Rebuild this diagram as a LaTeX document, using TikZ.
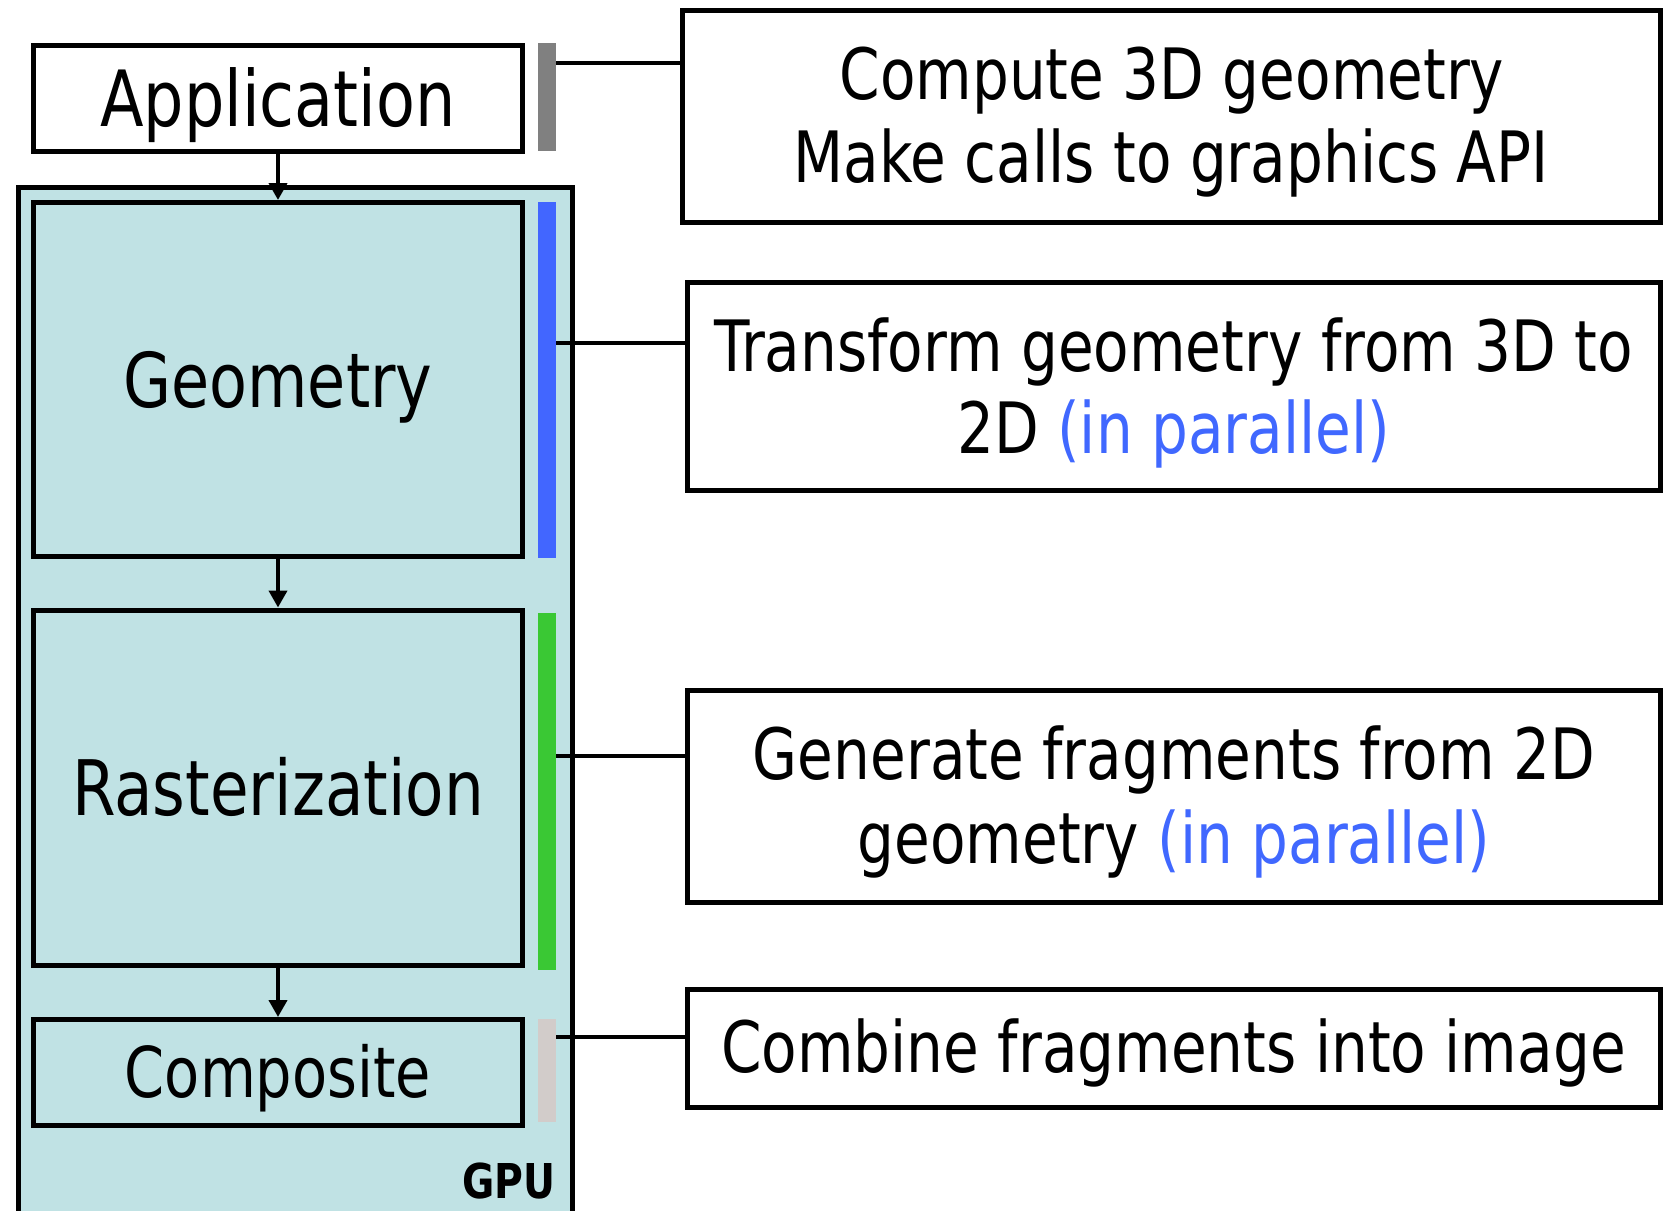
\documentclass[tikz,border=0pt]{standalone}
\usepackage{fontspec}
\setmainfont{DejaVu Sans}[FakeStretch=0.82]
\usetikzlibrary{arrows.meta,fit}

\definecolor{gpufill}{RGB}{192,226,228}
\definecolor{geomblue}{RGB}{66,102,255}
\definecolor{rastgreen}{RGB}{58,200,52}
\definecolor{appgray}{RGB}{128,128,128}
\definecolor{compgray}{RGB}{210,204,202}
\definecolor{partext}{RGB}{64,104,255}

\tikzset{
  stagebox/.style={draw=black, line width=2.5pt, inner sep=0pt},
  gpubox/.style={draw=black, line width=2.5pt, fill=gpufill, inner sep=0pt},
  notebox/.style={draw=black, line width=2.5pt, fill=white, inner sep=0pt},
  bar/.style={inner sep=0pt, draw=none},
  flow/.style={line width=2pt, -{Triangle[width=9pt,length=8.5pt]}},
  link/.style={line width=2pt},
  stagetext/.style={anchor=base, inner sep=0pt},
  notetext/.style={anchor=base, inner sep=0pt, font=\fontsize{35.4}{42}\selectfont},
}

\begin{document}
\begin{tikzpicture}[x=0.5pt,y=-0.5pt]
  \useasboundingbox (0,0) rectangle (1663,1210);
  \clip (0,0) rectangle (1663,1210);

  % GPU enclosure
  \node[gpubox, fit={(18,187.5) (572,1240)}] (gpu) {};
  \node[anchor=base east, inner sep=0pt, font=\fontsize{24}{28}\selectfont\bfseries]
    (gpulabel) at (556,1198) {GPU};

  % pipeline stages
  \node[stagebox, fill=white, fit={(33.5,45.5) (522.5,151.5)}] (app) {};
  \node[stagebox, fill=gpufill, fit={(33.5,202.5) (522.5,556.5)}] (geo) {};
  \node[stagebox, fill=gpufill, fit={(33.5,610) (522.5,965.5)}] (ras) {};
  \node[stagebox, fill=gpufill, fit={(33.5,1019.5) (522.5,1125.5)}] (comp) {};

  \node[stagetext, font=\fontsize{38.8}{46}\selectfont] (apptext) at (278,126) {Application};
  \node[stagetext, font=\fontsize{37.8}{45}\selectfont] (geotext) at (278,407) {Geometry};
  \node[stagetext, font=\fontsize{38.3}{46}\selectfont] (rastext) at (278,815.5) {Rasterization};
  \node[stagetext, font=\fontsize{35}{42}\selectfont] (comptext) at (278,1097) {Composite};

  % colour bars beside the stages
  \node[bar, fill=appgray, fit={(538,43) (556,151)}] (appbar) {};
  \node[bar, fill=geomblue, fit={(538,202) (556,558)}] (geobar) {};
  \node[bar, fill=rastgreen, fit={(538,613) (556,970)}] (rasbar) {};
  \node[bar, fill=compgray, fit={(538,1019) (556,1122)}] (compbar) {};

  % flow between stages
  \draw[flow] (app.south) -- (geo.north);
  \draw[flow] (geo.south) -- (ras.north);
  \draw[flow] (ras.south) -- (comp.north);

  % description boxes
  \node[notebox, fit={(682,10) (1660,222)}] (appnote) {};
  \node[notebox, fit={(687,282.5) (1660,490.5)}] (geonote) {};
  \node[notebox, fit={(687,690) (1660,902.5)}] (rasnote) {};
  \node[notebox, fit={(687,989.5) (1660,1107.5)}] (compnote) {};

  \node[notetext] (appnote1) at (1172,99) {Compute 3D geometry};
  \node[notetext] (appnote2) at (1171,182) {Make calls to graphics API};
  \node[notetext] (geonote1) at (1173.5,371) {Transform geometry from 3D to};
  \node[notetext] (geonote2) at (1173.5,453) {2D \textcolor{partext}{(in parallel)}};
  \node[notetext] (rasnote1) at (1174,779) {Generate fragments from 2D};
  \node[notetext] (rasnote2) at (1174,863) {geometry \textcolor{partext}{(in parallel)}};
  \node[notetext] (compnote1) at (1173.5,1072) {Combine fragments into image};

  % links from bars to descriptions
  \coordinate (a1) at (556,63);
  \coordinate (g1) at (556,343);
  \coordinate (r1) at (556,756);
  \coordinate (c1) at (556,1037);
  \draw[link] (a1) -- (a1 -| appnote.west);
  \draw[link] (g1) -- (g1 -| geonote.west);
  \draw[link] (r1) -- (r1 -| rasnote.west);
  \draw[link] (c1) -- (c1 -| compnote.west);
\end{tikzpicture}
\end{document}
